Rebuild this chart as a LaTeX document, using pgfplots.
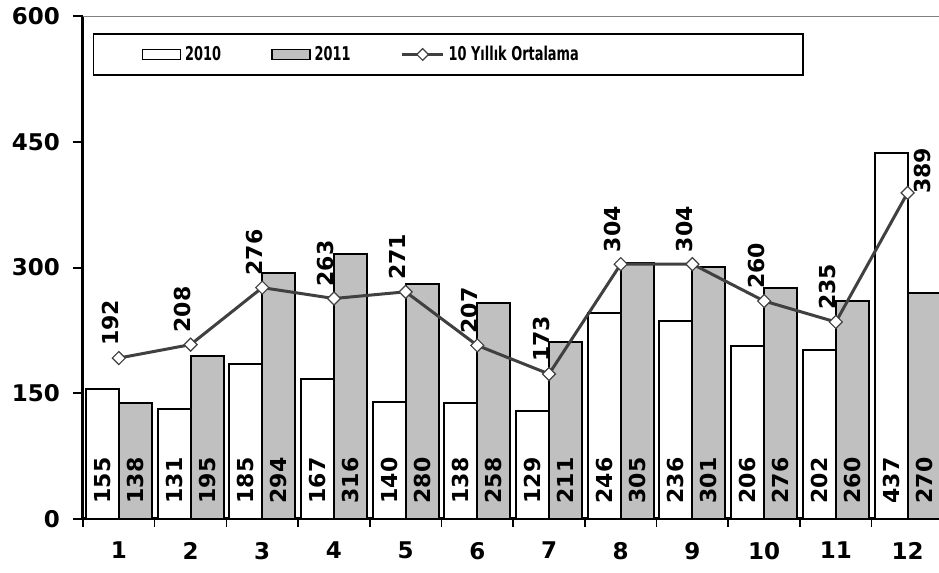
\documentclass[border=0pt]{standalone}
\usepackage{fontspec}
\setmainfont{DejaVu Sans}
\newfontfamily\legfont[FakeStretch=0.68]{DejaVu Sans}
\usepackage{pgfplots}
\pgfplotsset{compat=1.18}
\definecolor{barg}{HTML}{C0C0C0}
\definecolor{lineg}{HTML}{404040}

\begin{document}
\begin{tikzpicture}
\begin{axis}[
  at={(0pt,0pt)}, anchor=south west,
  scale only axis, width=430.2pt, height=251.5pt,
  xmin=0.5, xmax=12.5, ymin=0, ymax=600,
  axis x line*=bottom, axis y line*=left,
  axis line style={line width=1.5pt, black},
  xtick={1,...,12},
  minor xtick={0.5,1.5,...,12.5},
  ytick={0,150,300,450,600},
  tick align=outside,
  major tick length=5pt, minor tick length=4pt,
  major x tick style={draw=none},
  minor x tick style={line width=0.8pt, black},
  ytick style={line width=1pt, black},
  ticklabel style={font=\fontsize{11.5}{13}\selectfont\bfseries},
  /pgf/number format/assume math mode=true,
  xticklabel style={yshift=-3pt},
  yticklabel style={xshift=-3pt},
  legend columns=3,
  legend style={at={(rel axis cs:0,1)}, anchor=north west, xshift=5pt, yshift=-8.5pt,
    draw=black, line width=0.75pt, inner xsep=24pt, inner ysep=4pt,
    font=\fontsize{9.5}{10}\selectfont\legfont\bfseries,
    /tikz/every odd column/.append style={column sep=0pt},
    /tikz/every even column/.append style={column sep=23pt}},
  barlab/.style={nodes near coords,
    visualization depends on=y \as \rawy,
    every node near coord/.append style={shift={(axis direction cs:0,-\rawy)}, xshift=#1, yshift=4pt,
      rotate=90, anchor=west, font=\fontsize{11}{12}\selectfont\bfseries, black}},
  linelab/.style={nodes near coords,
    every node near coord/.append style={xshift=-4pt, yshift=2.5pt,
      rotate=90, anchor=west, font=\fontsize{11}{12}\selectfont\bfseries, black}},
]
\draw[gray, line width=0.75pt] (rel axis cs:0,1) -- (rel axis cs:1,1);

\addplot[ybar, fill=white, draw=black, line width=1pt, bar width=16.5pt, bar shift=-8.25pt, barlab=-8.25pt,
  legend image code/.code={\draw[fill=white, draw=black, line width=0.75pt] (0pt,-2.5pt) rectangle (19pt,2.5pt);}]
  coordinates {(1,155) (2,131) (3,185) (4,167) (5,140) (6,138) (7,129) (8,246) (9,236) (10,206) (11,202) (12,437)};
\addlegendentry{2010}

\addplot[ybar, fill=barg, draw=black, line width=1pt, bar width=16.5pt, bar shift=8.25pt, barlab=8.25pt,
  legend image code/.code={\draw[fill=barg, draw=black, line width=0.75pt] (0pt,-2.5pt) rectangle (19pt,2.5pt);}]
  coordinates {(1,138) (2,195) (3,294) (4,316) (5,280) (6,258) (7,211) (8,305) (9,301) (10,276) (11,260) (12,270)};
\addlegendentry{2011}

\addplot[lineg, line width=1.5pt, mark=square*, mark size=2.3pt,
  mark options={rotate=45, fill=white, draw=lineg, line width=0.6pt},
  legend image code/.code={\draw[lineg, line width=1.5pt] (-3pt,0pt) -- (17.5pt,0pt);
    \draw[fill=white, draw=lineg, line width=0.6pt, rotate around={45:(7.25pt,0pt)}] (5.2pt,-2.05pt) rectangle (9.3pt,2.05pt);}]
  coordinates {(1,192) (2,208) (3,276) (4,263) (5,271) (6,207) (7,173) (8,304) (9,304) (10,260) (11,235) (12,389)};
\addlegendentry{10 Yıllık Ortalama\rule{86pt}{0pt}}

\addplot[draw=none, mark=none, forget plot, linelab]
  coordinates {(1,192) (2,208) (3,276) (4,263) (5,271) (6,207) (7,173) (8,304) (9,304) (10,260) (11,235)};
\addplot[draw=none, mark=none, forget plot, nodes near coords,
  every node near coord/.append style={xshift=0pt, yshift=-4pt, rotate=90, anchor=north west,
    font=\fontsize{11}{12}\selectfont\bfseries, black}]
  coordinates {(12,389)};
\end{axis}
\pgfresetboundingbox
\useasboundingbox (-41.5pt,-27pt) rectangle (428pt,259.5pt);
\end{tikzpicture}
\end{document}
